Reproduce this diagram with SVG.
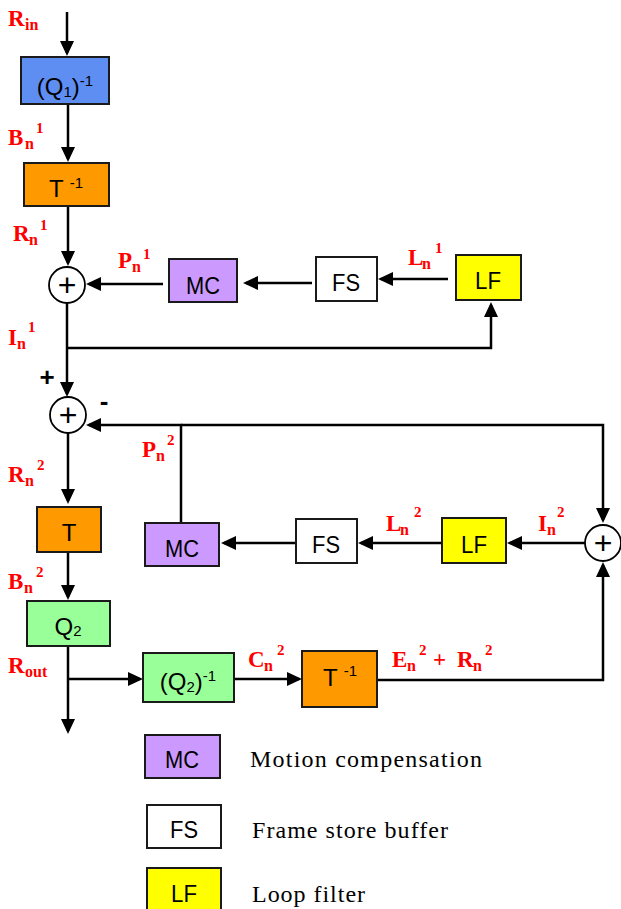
<svg xmlns="http://www.w3.org/2000/svg" width="621" height="909" viewBox="0 0 621 909">
<style>
.bx{stroke:#1a1a1a;stroke-width:2}
.bt{font-family:"Liberation Sans",Arial,sans-serif;font-size:24px;fill:#000;text-anchor:middle}
.sm{font-size:15px}
.lb{font-family:"Liberation Serif","Times New Roman",serif;font-weight:bold;font-size:23px;fill:#ff0000}
.sb{font-size:16px}
.sp{font-size:15px}
.ln{fill:none;stroke:#000;stroke-width:2.5}
.ar{marker-end:url(#ah)}
.cr{fill:#fff;stroke:#000;stroke-width:1.8}
.pl{font-family:"Liberation Sans",Arial,sans-serif;font-size:32px;fill:#000;text-anchor:middle}
.pm{font-family:"Liberation Sans",Arial,sans-serif;font-weight:bold;font-size:26px;fill:#000;text-anchor:middle}
.lg{font-family:"Liberation Serif","Times New Roman",serif;font-size:24px;fill:#000}
.mc{fill:#cc99ff}.fs{fill:#fff}.lf{fill:#ffff00}.or{fill:#ff9900}.gr{fill:#99ff99}.bl{fill:#5e8ef2}
</style>
<defs>
<marker id="ah" markerUnits="userSpaceOnUse" markerWidth="15" markerHeight="14" viewBox="0 0 15 14" refX="12" refY="7" orient="auto">
<path d="M0,0 L15,7 L0,14 z" fill="#000"/>
</marker>
</defs>
<rect width="621" height="909" fill="#fff"/>

<g id="connectors">
<path class="ln ar" d="M67,12 V53"/>
<path class="ln ar" d="M68,104 V159"/>
<path class="ln ar" d="M68,206 V263"/>
<path class="ln ar" d="M163,284 H89"/>
<path class="ln ar" d="M312,283 H246"/>
<path class="ln ar" d="M448,279 H381"/>
<path class="ln ar" d="M67,303 V394"/>
<path class="ln ar" d="M67,348 H491 V305"/>
<path class="ln ar" d="M181,523 V425 H89"/>
<path class="ln ar" d="M181,425 H603 V520"/>
<path class="ln ar" d="M68,433 V501"/>
<path class="ln ar" d="M68,552 V597"/>
<path class="ln ar" d="M68,646 V731"/>
<path class="ln ar" d="M68,679 H140"/>
<path class="ln ar" d="M234,679 H299"/>
<path class="ln ar" d="M377,680 H603 V565"/>
<path class="ln ar" d="M585,543 H510"/>
<path class="ln ar" d="M442,543 H361"/>
<path class="ln ar" d="M296,543 H224"/>
</g>

<g id="q1inv"><rect class="bx bl" x="21" y="57" width="88" height="47"/>
<text class="bt" x="65" y="95">(Q<tspan class="sm" dy="2">1</tspan><tspan dy="-2">)</tspan><tspan class="sm" dy="-9">-1</tspan></text></g>
<g id="t1inv"><rect class="bx or" x="24" y="163" width="85" height="43"/>
<text class="bt" x="66" y="197">T <tspan class="sm" dy="-9">-1</tspan></text></g>
<g id="sum1"><circle class="cr" cx="67" cy="285" r="18"/><text class="pl" x="67" y="296">+</text></g>
<g id="mc1"><rect class="bx mc" x="169" y="259" width="68" height="43"/><text class="bt" x="203" y="294" textLength="34" lengthAdjust="spacingAndGlyphs">MC</text></g>
<g id="fs1"><rect class="bx fs" x="316" y="257" width="61" height="44"/><text class="bt" x="346" y="291" textLength="28" lengthAdjust="spacingAndGlyphs">FS</text></g>
<g id="lf1"><rect class="bx lf" x="456" y="255" width="65" height="45"/><text class="bt" x="488" y="289" textLength="26" lengthAdjust="spacingAndGlyphs">LF</text></g>
<g id="sum2"><circle class="cr" cx="68" cy="415" r="18"/><text class="pl" x="68" y="426">+</text>
<text class="pm" x="47" y="386">+</text>
<text class="pm" x="104" y="410">-</text></g>
<g id="t"><rect class="bx or" x="37" y="507" width="64" height="45"/><text class="bt" x="69" y="541">T</text></g>
<g id="mc2"><rect class="bx mc" x="145" y="523" width="74" height="43"/><text class="bt" x="182" y="557" textLength="34" lengthAdjust="spacingAndGlyphs">MC</text></g>
<g id="fs2"><rect class="bx fs" x="296" y="519" width="61" height="44"/><text class="bt" x="326" y="553" textLength="28" lengthAdjust="spacingAndGlyphs">FS</text></g>
<g id="lf2"><rect class="bx lf" x="442" y="518" width="64" height="45"/><text class="bt" x="474" y="553" textLength="26" lengthAdjust="spacingAndGlyphs">LF</text></g>
<g id="sum3"><circle class="cr" cx="603" cy="543" r="18"/><text class="pl" x="603" y="554">+</text></g>
<g id="q2"><rect class="bx gr" x="27" y="601" width="83" height="45"/><text class="bt" x="68" y="635">Q<tspan class="sm" dy="1">2</tspan></text></g>
<g id="q2inv"><rect class="bx gr" x="143" y="653" width="91" height="49"/>
<text class="bt" x="188" y="690">(Q<tspan class="sm" dy="2">2</tspan><tspan dy="-2">)</tspan><tspan class="sm" dy="-9">-1</tspan></text></g>
<g id="t2inv"><rect class="bx or" x="302" y="651" width="75" height="56"/>
<text class="bt" x="340" y="686">T <tspan class="sm" dy="-10">-1</tspan></text></g>

<g id="labels">
<text class="lb" x="8" y="26">R<tspan class="sb" x="25" y="30">in</tspan></text>
<text class="lb" x="8" y="145">B<tspan class="sb" x="25" y="149">n</tspan><tspan class="sp" x="36" y="133">1</tspan></text>
<text class="lb" x="13" y="241">R<tspan class="sb" x="29" y="245">n</tspan><tspan class="sp" x="40" y="230">1</tspan></text>
<text class="lb" x="118" y="268">P<tspan class="sb" x="132" y="272">n</tspan><tspan class="sp" x="143" y="259">1</tspan></text>
<text class="lb" x="408" y="265">L<tspan class="sb" x="422" y="269">n</tspan><tspan class="sp" x="435" y="253">1</tspan></text>
<text class="lb" x="8" y="345">I<tspan class="sb" x="17" y="349">n</tspan><tspan class="sp" x="28" y="332">1</tspan></text>
<text class="lb" x="8" y="482">R<tspan class="sb" x="25" y="486">n</tspan><tspan class="sp" x="37" y="470">2</tspan></text>
<text class="lb" x="142" y="457">P<tspan class="sb" x="156" y="461">n</tspan><tspan class="sp" x="167" y="445">2</tspan></text>
<text class="lb" x="8" y="589">B<tspan class="sb" x="24" y="593">n</tspan><tspan class="sp" x="36" y="577">2</tspan></text>
<text class="lb" x="8" y="673">R<tspan class="sb" x="25" y="677">out</tspan></text>
<text class="lb" x="386" y="531">L<tspan class="sb" x="400" y="535">n</tspan><tspan class="sp" x="414" y="517">2</tspan></text>
<text class="lb" x="538" y="531">I<tspan class="sb" x="547" y="535">n</tspan><tspan class="sp" x="557" y="517">2</tspan></text>
<text class="lb" x="248" y="667">C<tspan class="sb" x="264" y="671">n</tspan><tspan class="sp" x="277" y="655">2</tspan></text>
<text class="lb" x="392" y="667">E<tspan class="sb" x="407" y="671">n</tspan><tspan class="sp" x="419" y="655">2</tspan><tspan x="433" y="667">+</tspan><tspan x="457" y="667">R</tspan><tspan class="sb" x="473" y="671">n</tspan><tspan class="sp" x="485" y="655">2</tspan></text>
</g>

<g id="legend">
<g id="leg-mc"><rect class="bx mc" x="145" y="735" width="75" height="43"/><text class="bt" x="182" y="768" textLength="34" lengthAdjust="spacingAndGlyphs">MC</text>
<text class="lg" x="250" y="767" textLength="232" lengthAdjust="spacing">Motion compensation</text></g>
<g id="leg-fs"><rect class="bx fs" x="147" y="805" width="74" height="43"/><text class="bt" x="184" y="838" textLength="28" lengthAdjust="spacingAndGlyphs">FS</text>
<text class="lg" x="252" y="838" textLength="196" lengthAdjust="spacing">Frame store buffer</text></g>
<g id="leg-lf"><rect class="bx lf" x="147" y="868" width="74" height="45"/><text class="bt" x="184" y="902" textLength="26" lengthAdjust="spacingAndGlyphs">LF</text>
<text class="lg" x="252" y="902" textLength="113" lengthAdjust="spacing">Loop filter</text></g>
</g>
</svg>
